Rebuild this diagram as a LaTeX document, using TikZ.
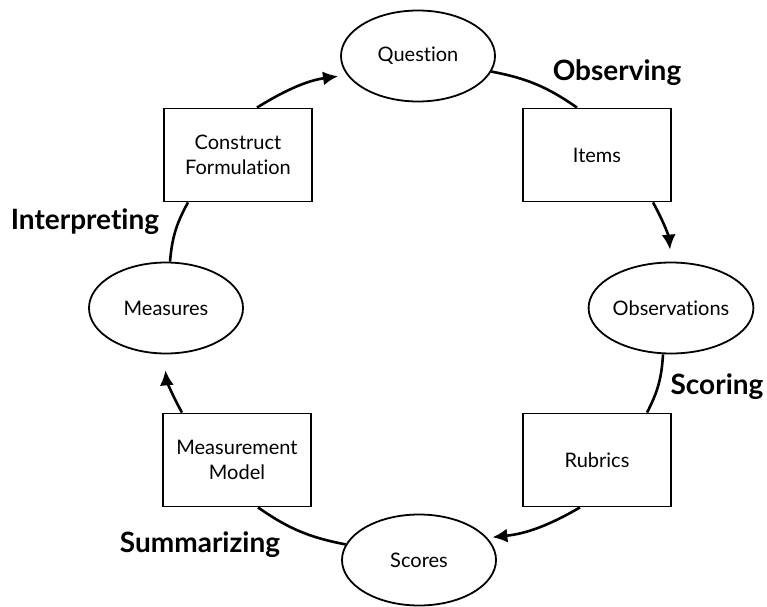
\documentclass[tikz,border=0pt]{standalone}
\usepackage{fontspec}
\setmainfont{Lato}[Ligatures=NoCommon]
\usetikzlibrary{arrows.meta,shapes.geometric}
\begin{document}
\begin{tikzpicture}[x=1pt,y=1pt,
  ell/.style={draw,ellipse,line width=1.8pt,minimum width=154pt,minimum height=91pt,inner sep=0pt,font=\fontsize{20}{24}\selectfont},
  boxx/.style={draw,rectangle,line width=1.8pt,minimum width=148pt,minimum height=93pt,inner sep=0pt,align=center,font=\fontsize{20}{25}\selectfont},
  lab/.style={font=\bfseries\fontsize{28}{32}\selectfont,inner sep=0pt},
  con/.style={line width=2.6pt,bend left=12},
  arr/.style={con,-{Latex[length=15pt,width=14pt]}}]
\useasboundingbox (0,0) rectangle (767,606);
\node[ell] (Q) at (418,550) {Question};
\node[boxx] (I) at (597,451) {Items};
\node[ell] (O) at (671,298) {Observations};
\node[boxx] (R) at (597,146) {Rubrics};
\node[ell] (S) at (419,46) {Scores};
\node[boxx] (M) at (237,146) {Measurement\\Model};
\node[ell] (E) at (166,298) {Measures};
\node[boxx] (C) at (238,451) {Construct\\Formulation};
\node[lab] (lo) at (617,533) {Observing};
\node[lab] (ls) at (717,219) {Scoring};
\node[lab] (lsu) at (200,61) {Summarizing};
\node[lab] (li) at (85,384) {Interpreting};
% connectors
\draw[con] (Q.-12) to ([xshift=-20pt]I.north);
\draw[arr,shorten >=12pt] ([xshift=56pt]I.south) to (O.north);
\draw[con] ([xshift=-8pt]O.south) to ([xshift=50pt]R.north);
\draw[arr,shorten >=5pt] ([xshift=-17pt]R.south) to (S.18);
\draw[con] (S.168) to ([xshift=21pt]M.south);
\draw[arr,shorten >=16pt] ([xshift=-55pt]M.north) to ([xshift=-2pt]E.south);
\draw[con] ([xshift=4pt]E.north) to ([xshift=-50pt]C.south);
\draw[arr,shorten >=9pt] ([xshift=19pt]C.north) to (Q.195);
\end{tikzpicture}
\end{document}
